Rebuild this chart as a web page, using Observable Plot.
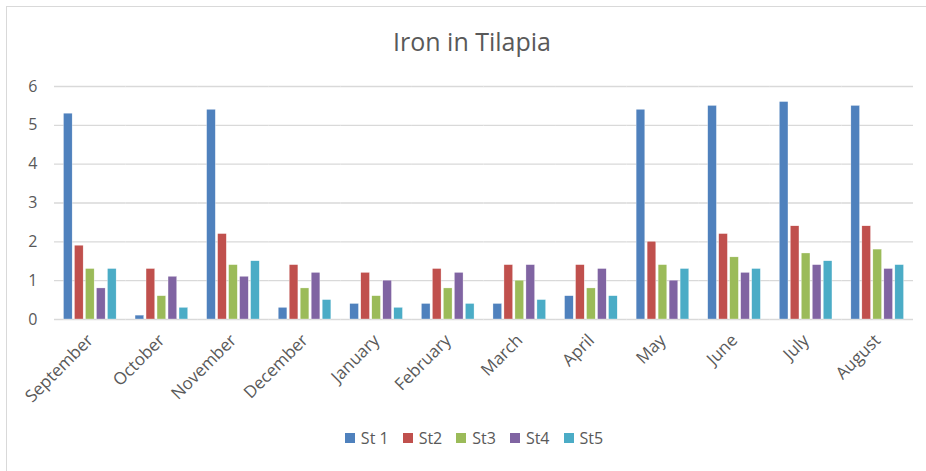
<!DOCTYPE html>
<html>
<head>
<meta charset="utf-8">
<script src="https://cdn.jsdelivr.net/npm/d3@7"></script>
<script src="https://cdn.jsdelivr.net/npm/@observablehq/plot@0.6"></script>
<style>
  html, body { margin: 0; padding: 0; background: #fff; }
  #frame { position: relative; width: 926px; height: 471px; overflow: hidden; font-family: "Open Sans", "Liberation Sans", sans-serif; }
  #border { position: absolute; left: 6px; top: 6px; width: 940px; height: 480px; border: 1.5px solid #d9d9d9; box-sizing: border-box; }
  #title { position: absolute; left: 0; width: 926px; top: 24px; text-align: center; font-size: 25px; color: #595959; padding-left: 18px; box-sizing: border-box; }
  #chart { position: absolute; left: 0; top: 60px; }
  #legend { position: absolute; left: 0; width: 926px; top: 427px; display: flex; justify-content: center; gap: 14px; font-size: 16px; color: #595959; padding-left: 22px; box-sizing: border-box; }
  #legend span.item { display: inline-flex; align-items: center; gap: 6px; }
  #legend span.sw { display: inline-block; width: 10px; height: 10px; }
</style>
</head>
<body>
<div id="frame">
  <div id="border"></div>
  <div id="title">Iron in Tilapia</div>
  <div id="chart"></div>
  <div id="legend"></div>
</div>
<script>
const months = ["September","October","November","December","January","February","March","April","May","June","July","August"];
const series = ["St 1","St2","St3","St4","St5"];
const colors = ["#4F81BD","#C0504D","#9BBB59","#8064A2","#4BACC6"];
const st1 = [5.3, 0.1, 5.4, 0.3, 0.4, 0.4, 0.4, 0.6, 5.4, 5.5, 5.6, 5.5];
const st2 = [1.9, 1.3, 2.2, 1.4, 1.2, 1.3, 1.4, 1.4, 2.0, 2.2, 2.4, 2.4];
const st3 = [1.3, 0.6, 1.4, 0.8, 0.6, 0.8, 1.0, 0.8, 1.4, 1.6, 1.7, 1.8];
const st4 = [0.8, 1.1, 1.1, 1.2, 1.0, 1.2, 1.4, 1.3, 1.0, 1.2, 1.4, 1.3];
const st5 = [1.3, 0.3, 1.5, 0.5, 0.3, 0.4, 0.5, 0.6, 1.3, 1.3, 1.5, 1.4];
const yTicks = [0, 1, 2, 3, 4, 5, 6];

const allSeries = [st1, st2, st3, st4, st5];
const data = [];
months.forEach((m, i) => {
  series.forEach((s, j) => data.push({month: m, series: s, value: allSeries[j][i]}));
});

const chart = Plot.plot({
  width: 926,
  height: 360,
  marginTop: 26,
  marginBottom: 101,
  marginLeft: 54,
  marginRight: 13,
  style: {fontFamily: "'Open Sans', 'Liberation Sans', sans-serif", fontSize: "16px", color: "#595959", background: "transparent"},
  fx: {domain: months, padding: 0, round: false, label: null},
  x: {domain: series, paddingInner: 0.21, paddingOuter: 0.86, round: false, axis: null},
  y: {domain: [0, 6], label: null, ticks: yTicks, tickSize: 0, tickPadding: 17, tickFormat: d3.format("d")},
  color: {domain: series, range: colors},
  marks: [
    Plot.gridY(yTicks, {stroke: "#d9d9d9", strokeOpacity: 1, strokeWidth: 1.3}),
    Plot.barY(data, {fx: "month", x: "series", y: "value", fill: "series", stroke: "#ffffff", strokeWidth: 0.4, strokeOpacity: 0.8}),
    Plot.axisFx({anchor: "bottom", tickSize: 0, tickPadding: 6, tickRotate: -45, textAnchor: "end", label: null, fontSize: 17, dx: 0, dy: 12}),
    Plot.axisY(yTicks, {tickSize: 0, tickPadding: 17, label: null, tickFormat: d3.format("d"), fontSize: 16})
  ]
});
document.getElementById("chart").appendChild(chart);

const legend = document.getElementById("legend");
series.forEach((s, i) => {
  const item = document.createElement("span");
  item.className = "item";
  const sw = document.createElement("span");
  sw.className = "sw";
  sw.style.background = colors[i];
  item.appendChild(sw);
  item.appendChild(document.createTextNode(s));
  legend.appendChild(item);
});
</script>
</body>
</html>
